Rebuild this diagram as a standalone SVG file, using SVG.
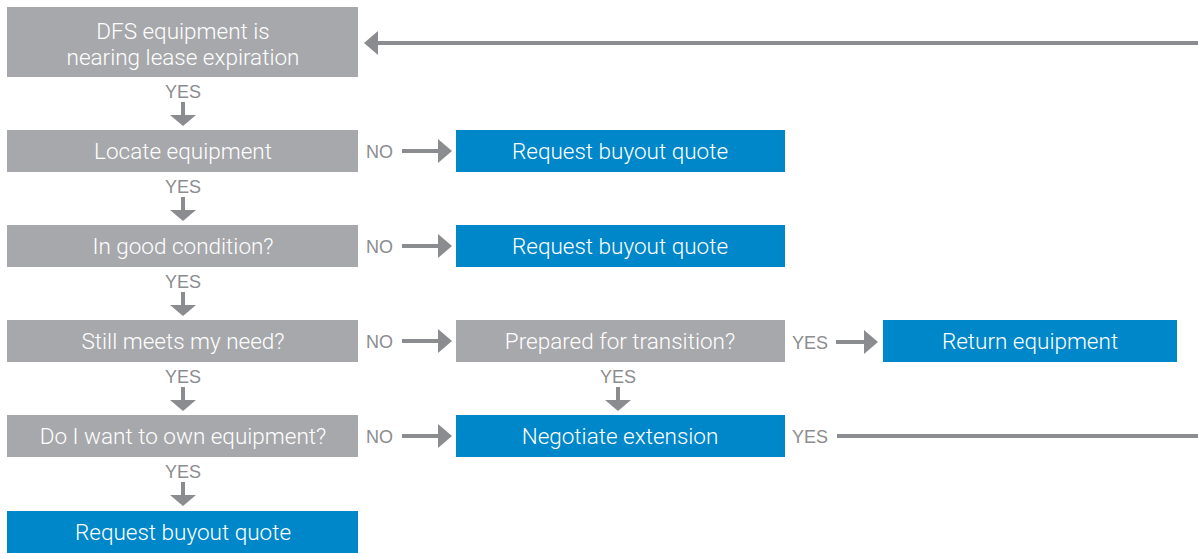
<svg xmlns="http://www.w3.org/2000/svg" width="1198" height="554" viewBox="0 0 1198 554">
<style>
.g{fill:#a7a8ab}
.b{fill:#0087c9}
.t{font-family:Roboto,"Liberation Sans",sans-serif;font-weight:300;font-size:22.5px;fill:#ffffff;text-anchor:middle}
.l{font-family:"Liberation Sans",Arial,sans-serif;font-size:18px;fill:#8b8c8f}
.c{text-anchor:middle}
.ln{stroke:#8b8c8f;stroke-width:4;fill:none}
.ah{fill:#8b8c8f}
</style>
<rect width="1198" height="554" fill="#ffffff"/>
<g id="n-start"><rect class="g" x="7" y="7" width="351" height="70"/><text class="t" x="183" y="39">DFS equipment is</text><text class="t" x="183" y="65">nearing lease expiration</text></g>
<g id="n-locate"><rect class="g" x="7" y="130" width="351" height="42"/><text class="t" x="183" y="159">Locate equipment</text></g>
<g id="n-condition"><rect class="g" x="7" y="225" width="351" height="42"/><text class="t" x="183" y="254">In good condition?</text></g>
<g id="n-needs"><rect class="g" x="7" y="320" width="351" height="42"/><text class="t" x="183" y="349">Still meets my need?</text></g>
<g id="n-own"><rect class="g" x="7" y="415" width="351" height="42"/><text class="t" x="183" y="444">Do I want to own equipment?</text></g>
<g id="n-buyout3"><rect class="b" x="7" y="511" width="351" height="42"/><text class="t" x="183" y="540">Request buyout quote</text></g>
<g id="n-buyout1"><rect class="b" x="456" y="130" width="329" height="42"/><text class="t" x="620" y="159">Request buyout quote</text></g>
<g id="n-buyout2"><rect class="b" x="456" y="225" width="329" height="42"/><text class="t" x="620" y="254">Request buyout quote</text></g>
<g id="n-transition"><rect class="g" x="456" y="320" width="329" height="42"/><text class="t" x="620" y="349">Prepared for transition?</text></g>
<g id="n-extension"><rect class="b" x="456" y="415" width="329" height="42"/><text class="t" x="620" y="444">Negotiate extension</text></g>
<g id="n-return"><rect class="b" x="883" y="320" width="294" height="42"/><text class="t" x="1030" y="349">Return equipment</text></g>
<g id="connectors">
<path class="ln" d="M1198 43H376"/><path class="ah" d="M364 43L378 31V55Z"/>
<text class="l c" x="183" y="98">YES</text><path class="ln" d="M183 102V117"/><path class="ah" d="M170 115H196L183 126Z"/>
<text class="l c" x="183" y="193">YES</text><path class="ln" d="M183 197V212"/><path class="ah" d="M170 210H196L183 221Z"/>
<text class="l c" x="183" y="288">YES</text><path class="ln" d="M183 292V307"/><path class="ah" d="M170 305H196L183 316Z"/>
<text class="l c" x="183" y="383">YES</text><path class="ln" d="M183 387V402"/><path class="ah" d="M170 400H196L183 411Z"/>
<text class="l c" x="183" y="478">YES</text><path class="ln" d="M183 482V497"/><path class="ah" d="M170 495H196L183 506Z"/>
<text class="l c" x="618" y="383">YES</text><path class="ln" d="M618 387V402"/><path class="ah" d="M605 400H631L618 411Z"/>
<text class="l" x="366" y="158">NO</text><path class="ln" d="M402 151H440"/><path class="ah" d="M438 139L452 151L438 163Z"/>
<text class="l" x="366" y="253">NO</text><path class="ln" d="M402 246H440"/><path class="ah" d="M438 234L452 246L438 258Z"/>
<text class="l" x="366" y="348">NO</text><path class="ln" d="M402 341H440"/><path class="ah" d="M438 329L452 341L438 353Z"/>
<text class="l" x="366" y="443">NO</text><path class="ln" d="M402 436H440"/><path class="ah" d="M438 424L452 436L438 448Z"/>
<text class="l" x="792" y="349">YES</text><path class="ln" d="M836 342H866"/><path class="ah" d="M864 330L878 342L864 354Z"/>
<text class="l" x="792" y="443">YES</text><path class="ln" d="M837 436H1198"/>
</g>
</svg>
